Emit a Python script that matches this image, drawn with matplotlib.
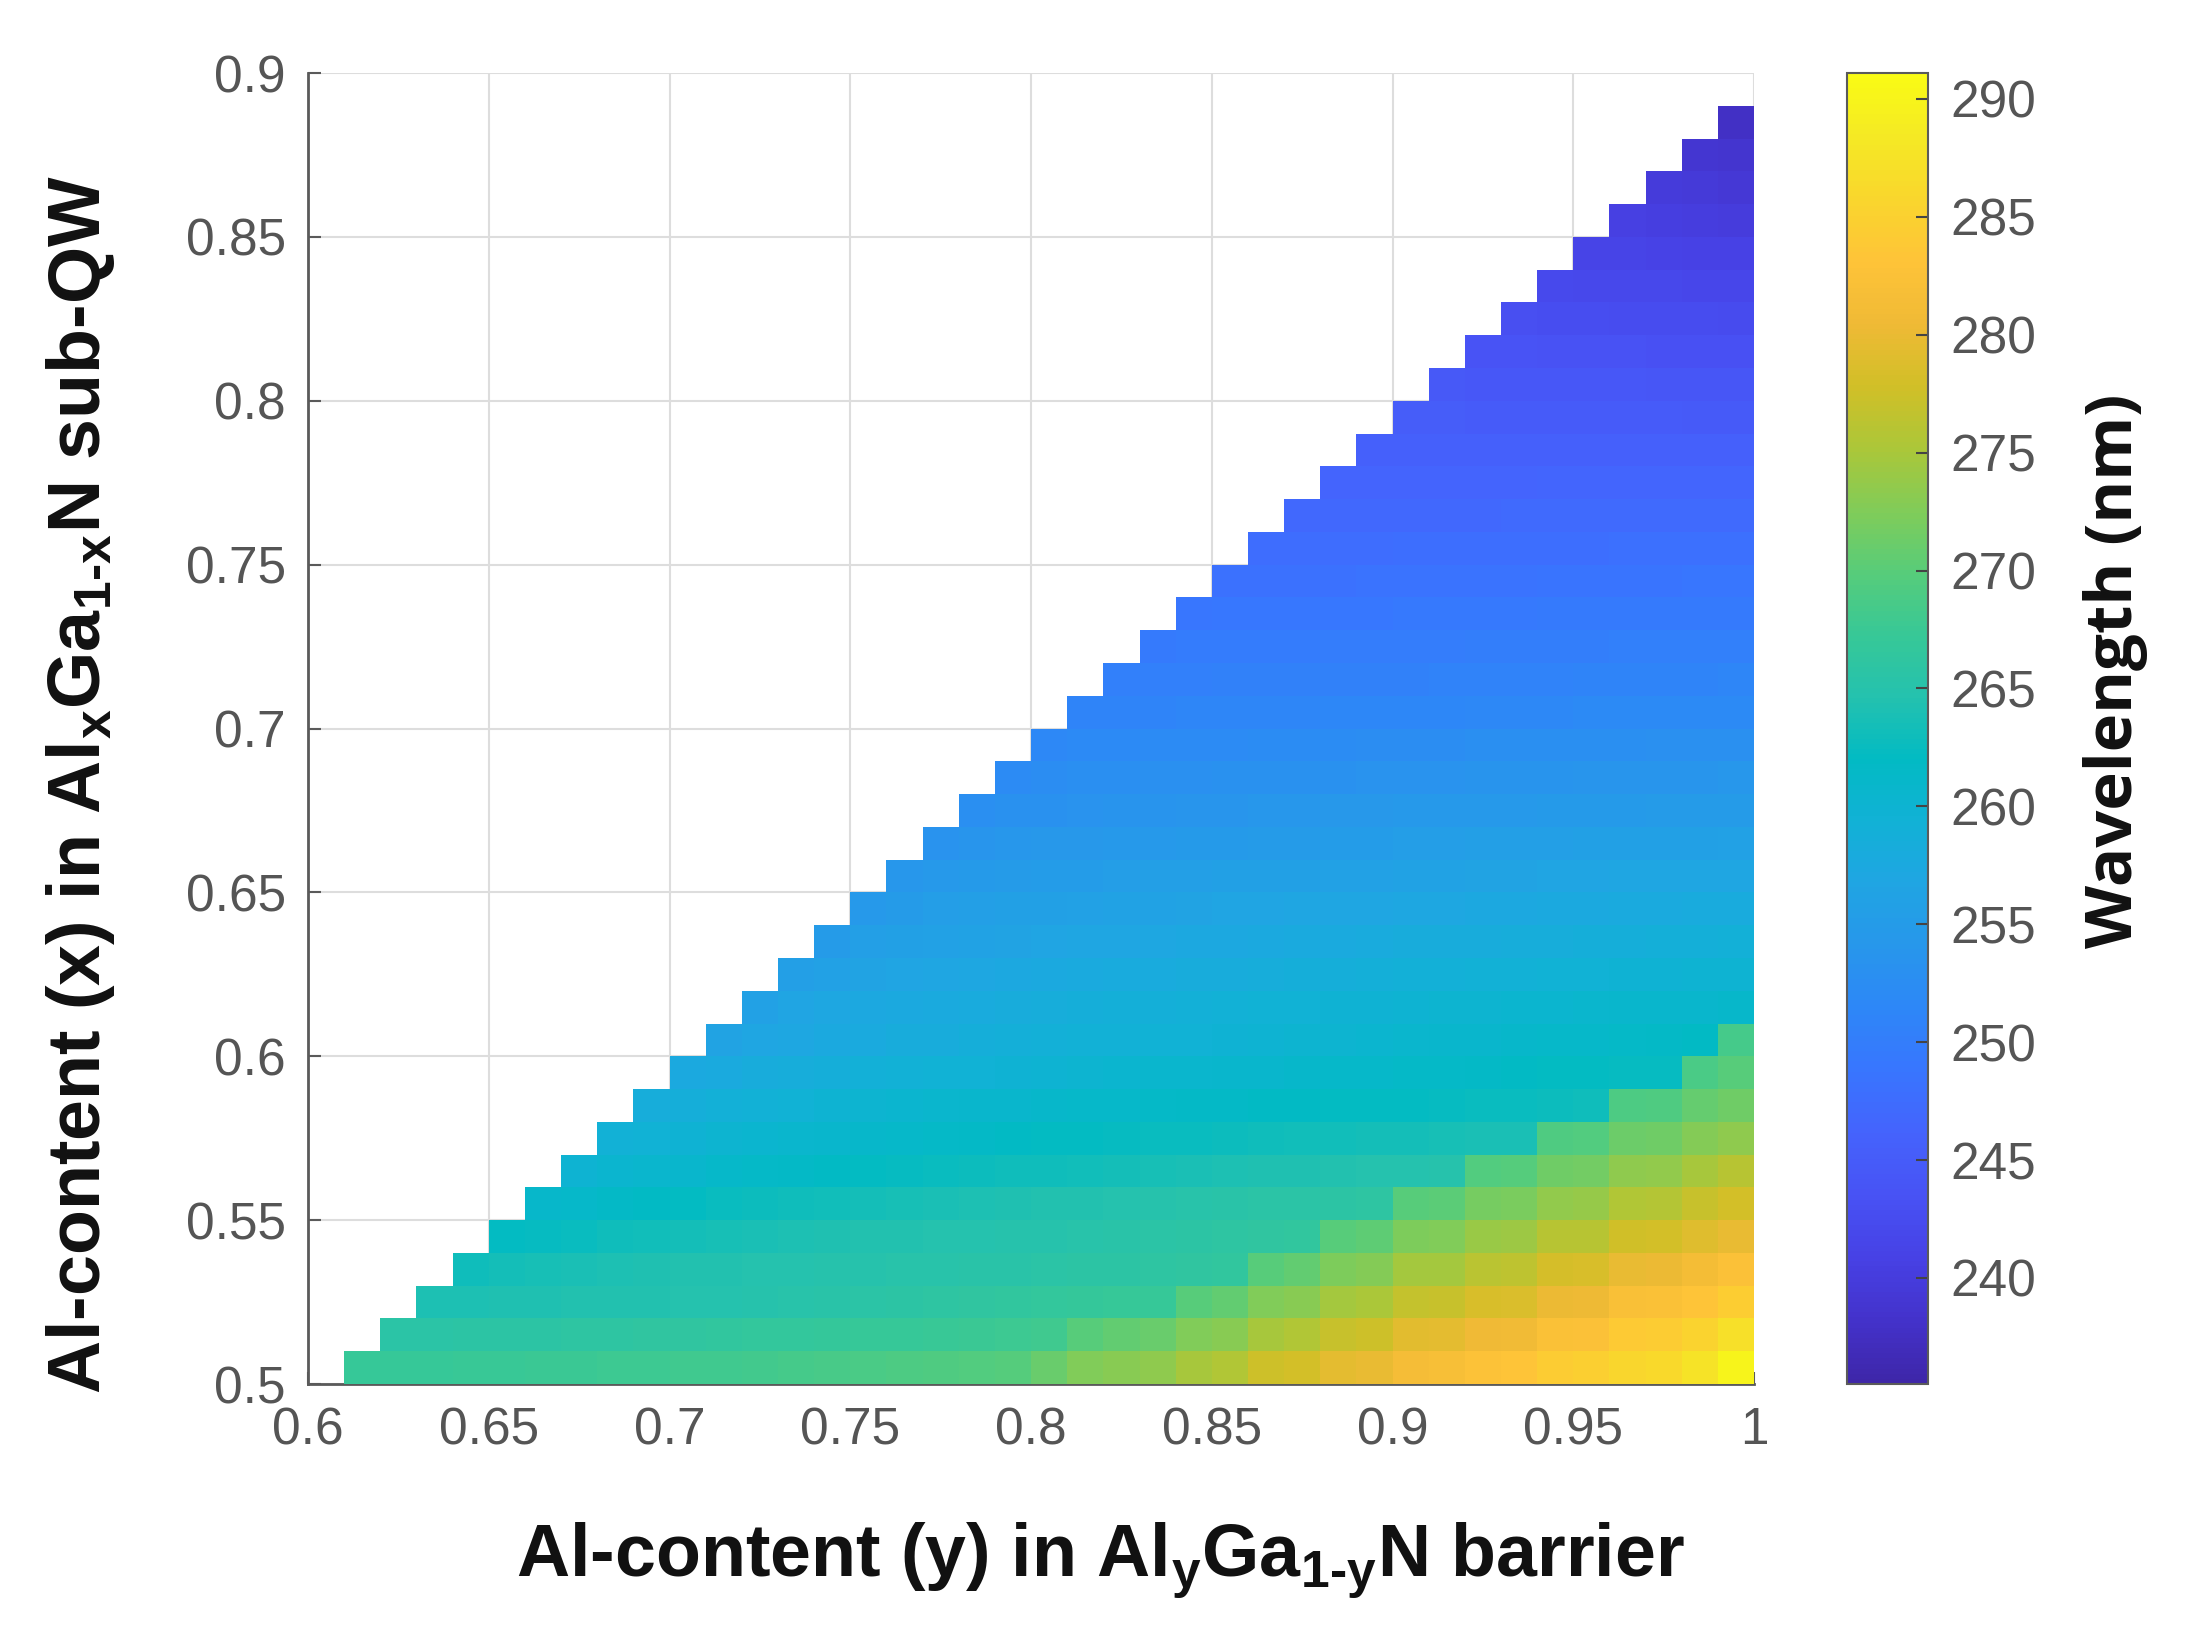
import numpy as np
import matplotlib
matplotlib.use("Agg")
import matplotlib.pyplot as plt
from matplotlib.colors import LinearSegmentedColormap

# Al-content of the barrier (left edge of each column) and of the sub-QW (bottom edge of each row)
barrier_y = [0.61, 0.62, 0.63, 0.64, 0.65, 0.66, 0.67, 0.68, 0.69, 0.70,
             0.71, 0.72, 0.73, 0.74, 0.75, 0.76, 0.77, 0.78, 0.79, 0.80,
             0.81, 0.82, 0.83, 0.84, 0.85, 0.86, 0.87, 0.88, 0.89, 0.90,
             0.91, 0.92, 0.93, 0.94, 0.95, 0.96, 0.97, 0.98, 0.99]
subqw_x = [0.50, 0.51, 0.52, 0.53, 0.54, 0.55, 0.56, 0.57, 0.58, 0.59,
           0.60, 0.61, 0.62, 0.63, 0.64, 0.65, 0.66, 0.67, 0.68, 0.69,
           0.70, 0.71, 0.72, 0.73, 0.74, 0.75, 0.76, 0.77, 0.78, 0.79,
           0.80, 0.81, 0.82, 0.83, 0.84, 0.85, 0.86, 0.87, 0.88]

# wavelength (nm) per row of subqw_x; each row ends at barrier y = 0.99
wavelength = [
    # x = 0.50
    [267.0, 267.1, 267.2, 267.3, 267.4, 267.5, 267.6, 267.7, 267.8, 267.9, 268.0, 268.2, 268.4,
     268.6, 268.8, 269.0, 269.2, 269.4, 269.6, 271.0, 272.5, 273.0, 273.5, 275.0, 275.5, 277.5,
     278.0, 279.5, 280.0, 281.5, 281.8, 282.8, 283.2, 284.3, 284.7, 285.8, 286.3, 287.5, 290.0],
    # x = 0.51
    [265.5, 265.6, 265.7, 265.8, 265.9, 266.0, 266.1, 266.2, 266.3, 266.4, 266.6, 266.7, 266.9,
     267.0, 267.2, 267.4, 267.6, 267.8, 268.0, 270.0, 270.5, 271.0, 272.5, 273.0, 275.0, 275.5,
     277.2, 277.5, 279.2, 279.4, 280.6, 280.8, 282.3, 282.5, 284.0, 284.2, 285.3, 287.0],
    # x = 0.52
    [264.0, 264.1, 264.2, 264.3, 264.4, 264.5, 264.6, 264.7, 264.8, 265.0, 265.2, 265.4, 265.6,
     265.8, 266.0, 266.2, 266.4, 266.6, 266.8, 267.0, 267.2, 270.0, 270.5, 272.5, 273.0, 274.8,
     275.1, 276.9, 277.1, 278.4, 278.6, 280.2, 280.4, 282.0, 282.2, 283.2, 284.5],
    # x = 0.53
    [263.0, 263.3, 263.6, 263.8, 264.0, 264.2, 264.4, 264.6, 264.7, 264.8, 264.9, 265.0, 265.1,
     265.2, 265.3, 265.4, 265.5, 265.7, 265.9, 266.1, 266.3, 266.5, 270.0, 270.5, 272.4, 272.7,
     274.6, 274.8, 276.2, 276.4, 278.1, 278.3, 279.9, 280.1, 281.2, 282.5],
    # x = 0.54
    [262.0, 262.3, 262.6, 262.9, 263.2, 263.4, 263.6, 263.8, 264.0, 264.2, 264.4, 264.6, 264.7,
     264.8, 264.9, 265.0, 265.2, 265.4, 265.6, 265.8, 266.0, 266.2, 266.4, 270.0, 270.3, 272.3,
     272.5, 274.0, 274.2, 275.9, 276.1, 277.8, 278.0, 279.1, 280.0],
    # x = 0.55
    [261.0, 261.3, 261.6, 261.9, 262.2, 262.5, 262.7, 263.0, 263.2, 263.4, 263.6, 263.8, 264.0,
     264.2, 264.4, 264.6, 264.7, 264.9, 265.1, 265.3, 265.5, 265.6, 265.8, 266.0, 270.0, 270.2,
     271.8, 272.0, 273.7, 273.9, 275.6, 275.8, 277.0, 278.0],
    # x = 0.56
    [260.0, 260.3, 260.6, 260.9, 261.2, 261.4, 261.7, 261.9, 262.1, 262.3, 262.5, 262.7, 262.9,
     263.0, 263.2, 263.4, 263.6, 263.8, 264.0, 264.2, 264.3, 264.5, 264.7, 264.8, 265.0, 269.5,
     269.7, 271.5, 271.7, 273.4, 273.6, 274.9, 276.0],
    # x = 0.57
    [259.2, 259.5, 259.8, 260.1, 260.4, 260.6, 260.9, 261.1, 261.3, 261.5, 261.7, 261.9, 262.0,
     262.2, 262.3, 262.5, 262.6, 262.8, 262.9, 263.1, 263.2, 263.4, 263.5, 263.6, 263.8, 263.9,
     269.3, 269.5, 271.2, 271.4, 272.8, 273.5],
    # x = 0.58
    [258.4, 258.7, 259.0, 259.3, 259.6, 259.9, 260.1, 260.3, 260.5, 260.7, 260.9, 261.0, 261.2,
     261.3, 261.4, 261.6, 261.7, 261.8, 261.9, 262.0, 262.1, 262.2, 262.4, 262.5, 262.6, 262.7,
     262.9, 269.0, 269.2, 270.8, 271.5],
    # x = 0.59
    [257.5, 257.8, 258.1, 258.4, 258.7, 259.0, 259.2, 259.4, 259.6, 259.8, 260.0, 260.2, 260.3,
     260.5, 260.6, 260.8, 260.9, 261.0, 261.2, 261.3, 261.4, 261.5, 261.7, 261.8, 262.0, 262.1,
     262.3, 262.4, 268.8, 270.0],
    # x = 0.60
    [256.5, 256.9, 257.2, 257.5, 257.8, 258.1, 258.3, 258.6, 258.8, 259.0, 259.2, 259.3, 259.5,
     259.6, 259.8, 259.9, 260.1, 260.2, 260.4, 260.5, 260.7, 260.8, 261.0, 261.2, 261.3, 261.5,
     261.6, 261.8, 268.5],
    # x = 0.61
    [256.0, 256.7, 257.1, 257.3, 257.6, 257.8, 258.0, 258.2, 258.4, 258.6, 258.8, 258.9, 259.1,
     259.2, 259.4, 259.5, 259.7, 259.8, 259.9, 260.1, 260.2, 260.3, 260.4, 260.5, 260.7, 260.8,
     260.9, 261.0],
    # x = 0.62
    [255.5, 256.1, 256.5, 256.7, 257.0, 257.2, 257.4, 257.6, 257.7, 257.9, 258.0, 258.2, 258.3,
     258.5, 258.6, 258.7, 258.9, 259.0, 259.1, 259.2, 259.3, 259.5, 259.6, 259.7, 259.8, 259.9,
     260.0],
    # x = 0.63
    [255.0, 255.6, 255.9, 256.1, 256.3, 256.5, 256.7, 256.9, 257.0, 257.2, 257.3, 257.4, 257.6,
     257.7, 257.8, 257.9, 258.1, 258.2, 258.3, 258.4, 258.5, 258.6, 258.7, 258.8, 258.9, 259.0],
    # x = 0.64
    [254.5, 255.0, 255.3, 255.5, 255.7, 255.9, 256.0, 256.2, 256.3, 256.4, 256.6, 256.7, 256.8,
     256.9, 257.0, 257.1, 257.2, 257.4, 257.4, 257.5, 257.6, 257.7, 257.8, 257.9, 258.0],
    # x = 0.65
    [254.0, 254.5, 254.7, 254.9, 255.1, 255.2, 255.3, 255.5, 255.6, 255.7, 255.8, 255.9, 256.0,
     256.1, 256.2, 256.3, 256.4, 256.5, 256.6, 256.7, 256.8, 256.8, 256.9, 257.0],
    # x = 0.66
    [253.4, 253.8, 254.0, 254.2, 254.3, 254.5, 254.6, 254.7, 254.8, 254.9, 255.0, 255.1, 255.2,
     255.3, 255.4, 255.5, 255.6, 255.6, 255.7, 255.8, 255.9, 255.9, 256.0],
    # x = 0.67
    [252.8, 253.2, 253.3, 253.5, 253.6, 253.7, 253.8, 253.9, 254.0, 254.1, 254.2, 254.3, 254.4,
     254.5, 254.5, 254.6, 254.7, 254.7, 254.8, 254.9, 254.9, 255.0],
    # x = 0.68
    [252.2, 252.5, 252.7, 252.8, 252.9, 253.0, 253.1, 253.2, 253.2, 253.3, 253.4, 253.5, 253.5,
     253.6, 253.7, 253.7, 253.8, 253.8, 253.9, 253.9, 254.0],
    # x = 0.69
    [251.6, 251.8, 252.0, 252.1, 252.2, 252.2, 252.3, 252.4, 252.4, 252.5, 252.5, 252.6, 252.7,
     252.7, 252.8, 252.8, 252.8, 252.9, 252.9, 253.0],
    # x = 0.70
    [251.0, 251.1, 251.1, 251.2, 251.2, 251.3, 251.3, 251.4, 251.4, 251.5, 251.5, 251.6, 251.7,
     251.7, 251.8, 251.8, 251.9, 251.9, 252.0],
    # x = 0.71
    [250.3, 250.4, 250.4, 250.5, 250.5, 250.6, 250.6, 250.7, 250.7, 250.8, 250.8, 250.9, 250.9,
     251.0, 251.0, 251.1, 251.1, 251.2],
    # x = 0.72
    [249.6, 249.7, 249.7, 249.8, 249.8, 249.9, 249.9, 250.0, 250.0, 250.1, 250.1, 250.2, 250.2,
     250.3, 250.3, 250.4, 250.4],
    # x = 0.73
    [248.9, 249.0, 249.0, 249.0, 249.1, 249.1, 249.2, 249.2, 249.3, 249.3, 249.4, 249.4, 249.5,
     249.5, 249.6, 249.6],
    # x = 0.74
    [248.2, 248.2, 248.3, 248.3, 248.4, 248.4, 248.5, 248.5, 248.5, 248.6, 248.6, 248.7, 248.7,
     248.8, 248.8],
    # x = 0.75
    [247.5, 247.5, 247.6, 247.6, 247.7, 247.7, 247.7, 247.8, 247.8, 247.8, 247.9, 247.9, 248.0,
     248.0],
    # x = 0.76
    [246.9, 246.9, 247.0, 247.0, 247.0, 247.0, 247.1, 247.1, 247.1, 247.1, 247.2, 247.2, 247.2],
    # x = 0.77
    [246.3, 246.3, 246.3, 246.3, 246.3, 246.3, 246.4, 246.4, 246.4, 246.4, 246.4, 246.4],
    # x = 0.78
    [245.7, 245.7, 245.7, 245.7, 245.7, 245.7, 245.6, 245.6, 245.6, 245.6, 245.6],
    # x = 0.79
    [245.1, 245.1, 245.0, 245.0, 245.0, 244.9, 244.9, 244.9, 244.8, 244.8],
    # x = 0.80
    [244.5, 244.4, 244.4, 244.3, 244.3, 244.2, 244.1, 244.1, 244.0],
    # x = 0.81
    [243.7, 243.6, 243.5, 243.5, 243.4, 243.3, 243.3, 243.2],
    # x = 0.82
    [242.9, 242.8, 242.7, 242.6, 242.6, 242.5, 242.4],
    # x = 0.83
    [242.1, 242.0, 241.9, 241.8, 241.7, 241.6],
    # x = 0.84
    [241.3, 241.2, 241.0, 240.9, 240.8],
    # x = 0.85
    [240.5, 240.3, 240.2, 240.0],
    # x = 0.86
    [239.7, 239.5, 239.4],
    # x = 0.87
    [238.8, 238.7],
    # x = 0.88
    [237.8],
]

x_ticks = [0.6, 0.65, 0.7, 0.75, 0.8, 0.85, 0.9, 0.95, 1.0]
x_tick_labels = ['0.6', '0.65', '0.7', '0.75', '0.8', '0.85', '0.9', '0.95', '1']
y_ticks = [0.5, 0.55, 0.6, 0.65, 0.7, 0.75, 0.8, 0.85, 0.9]
y_tick_labels = ['0.5', '0.55', '0.6', '0.65', '0.7', '0.75', '0.8', '0.85', '0.9']
cbar_ticks = [240, 245, 250, 255, 260, 265, 270, 275, 280, 285, 290]

# MATLAB parula colours
parula_colors = [
    (0.2422, 0.1504, 0.6603), (0.2647, 0.1978, 0.7952), (0.2783, 0.2559, 0.8991),
    (0.2810, 0.3228, 0.9579), (0.2699, 0.3892, 0.9906), (0.2206, 0.4603, 0.9973),
    (0.1786, 0.5289, 0.9682), (0.1540, 0.5902, 0.9218), (0.1248, 0.6459, 0.8883),
    (0.0689, 0.6948, 0.8394), (0.0067, 0.7312, 0.7660), (0.1408, 0.7584, 0.6842),
    (0.2161, 0.7843, 0.5923), (0.3406, 0.8008, 0.4789), (0.5044, 0.7993, 0.3480),
    (0.6720, 0.7793, 0.2227), (0.8203, 0.7498, 0.1535), (0.9393, 0.7288, 0.2100),
    (0.9970, 0.7659, 0.2199), (0.9786, 0.8386, 0.1766), (0.9597, 0.9135, 0.1423),
    (0.9769, 0.9839, 0.0805),
]
parula = LinearSegmentedColormap.from_list('parula', parula_colors, N=256)

# build the grid, empty cells stay NaN
n_rows, n_cols = len(subqw_x), len(barrier_y)
Z = np.full((n_rows, n_cols), np.nan)
for i, row in enumerate(wavelength):
    Z[i, n_cols - len(row):] = row
Z = np.ma.masked_invalid(Z)

x_edges = barrier_y + [1.00]
y_edges = subqw_x + [0.89]

plt.rcParams['font.family'] = ['Liberation Sans Narrow', 'Liberation Sans', 'DejaVu Sans']
plt.rcParams['mathtext.fontset'] = 'custom'
plt.rcParams['mathtext.rm'] = 'Liberation Sans'
plt.rcParams['mathtext.bf'] = 'Liberation Sans:bold'
plt.rcParams['mathtext.it'] = 'Liberation Sans:italic'

fig = plt.figure(figsize=(21.97, 16.26), dpi=100)
ax = fig.add_axes([0.1402, 0.1488, 0.6582, 0.8063])
cax = fig.add_axes([0.8407, 0.1488, 0.0369, 0.8063])

mesh = ax.pcolormesh(x_edges, y_edges, Z, cmap=parula, vmin=235.5, vmax=291.1,
                     shading='flat', zorder=3)

ax.set_xlim(0.6, 1.0)
ax.set_ylim(0.5, 0.9)
ax.set_xticks(x_ticks)
ax.set_xticklabels(x_tick_labels)
ax.set_yticks(y_ticks)
ax.set_yticklabels(y_tick_labels)
ax.grid(True, color='#dddddd', linewidth=1.5)
ax.set_axisbelow(True)
for side in ['top', 'right']:
    ax.spines[side].set_visible(False)
for side in ['left', 'bottom']:
    ax.spines[side].set_color('#5a5a5a')
    ax.spines[side].set_linewidth(2)
ax.tick_params(direction='in', length=9, width=1.5, color='#5a5a5a',
               labelsize=37, labelcolor='#555555', pad=16)

lab_font = dict(fontsize=53, fontweight='bold', family='Liberation Sans', color='#111111')
ax.set_xlabel('Al-content (y) in Al$_\\mathbf{y}$Ga$_\\mathbf{1\u2010y}$N barrier', **lab_font)
ax.xaxis.label.set_va('center')
ax.xaxis.set_label_coords(0.548, -0.135)
ax.set_ylabel('Al-content (x) in Al$_\\mathbf{x}$Ga$_\\mathbf{1\u2010x}$N sub-QW', **lab_font)
ax.yaxis.label.set_va('center')
ax.yaxis.set_label_coords(-0.157, 0.457)

cb = fig.colorbar(mesh, cax=cax, ticks=cbar_ticks)
cb.outline.set_edgecolor('#5a5a5a')
cb.outline.set_linewidth(1.5)
cax.tick_params(direction='in', length=9, width=1.5, color='#444444',
                labelsize=37, labelcolor='#555555', pad=16)
fig.text(0.9631, 0.5873, 'Wavelength (nm)', rotation=90, ha='center', va='center',
         fontsize=47, fontweight='bold', family='Open Sans', color='#111111')

fig.savefig('out.png', dpi=100)
